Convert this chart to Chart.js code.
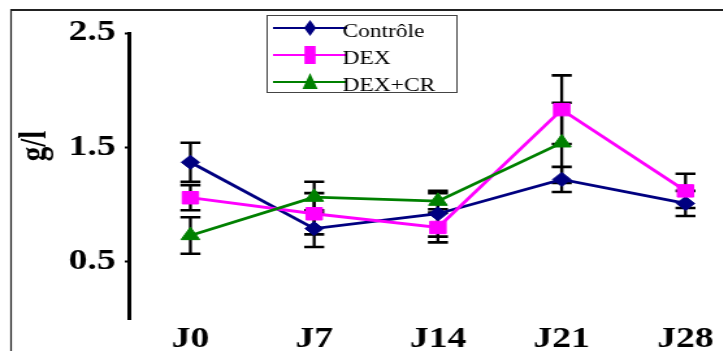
<!DOCTYPE html>
<html>
<head>
<meta charset="utf-8">
<script src="https://cdn.jsdelivr.net/npm/chart.js@4/dist/chart.umd.min.js"></script>
<style>
  html, body { margin: 0; padding: 0; background: #fff; overflow: hidden; }
  #wrap { width: 556px; height: 351px; transform: scaleX(1.3); transform-origin: 0 0; }
  #c { display: block; }
</style>
</head>
<body>
<div id="wrap"><canvas id="c" width="556" height="351"></canvas></div>
<script>
// ---- data ----
const categories = ['J0', 'J7', 'J14', 'J21', 'J28'];
const days = [0, 7, 14, 21, 28];
const seriesNames = ['Contrôle', 'DEX', 'DEX+CR'];
const controle = [1.37, 0.79, 0.92, 1.22, 1.01];
const controleErr = [0.17, 0.16, 0.20, 0.11, 0.11];
const dex = [1.06, 0.92, 0.80, 1.83, 1.12];
const dexErr = [0.11, 0.18, 0.13, 0.30, 0.15];
const dexCr = [0.73, 1.065, 1.03, 1.54, null];
const dexCrErr = [0.16, 0.135, 0.07, 0.35, null];
const yTicks = [0.5, 1.5, 2.5];
const yTitle = 'g/l';

const SERIF = '"Liberation Serif", "Times New Roman", serif';
const toPts = arr => arr.map((v, i) => ({ x: days[i], y: v }));

const framePlugin = {
  id: 'frame',
  beforeDraw(chart) {
    const ctx = chart.ctx;
    ctx.save();
    ctx.fillStyle = '#fff';
    ctx.fillRect(0, 0, chart.width, chart.height);
    ctx.strokeStyle = '#222';
    ctx.lineWidth = 2;
    ctx.beginPath(); ctx.moveTo(8, 10); ctx.lineTo(chart.width + 2, 10); ctx.stroke();
    ctx.lineWidth = 1.2;
    ctx.beginPath(); ctx.moveTo(8.5, 9); ctx.lineTo(8.5, chart.height + 2); ctx.stroke();
    // y title
    ctx.translate(28, 146);
    ctx.rotate(-Math.PI / 2);
    ctx.fillStyle = '#000';
    ctx.font = 'bold 29px ' + SERIF;
    ctx.textAlign = 'center';
    ctx.textBaseline = 'middle';
    ctx.fillText(yTitle, 0, 0);
    ctx.restore();
  }
};

const errorBarPlugin = {
  id: 'errorBars',
  beforeDatasetsDraw(chart) {
    const { ctx, scales: { x, y } } = chart;
    ctx.save();
    ctx.strokeStyle = '#000';
    chart.data.datasets.forEach(ds => {
      ds.data.forEach((p, j) => {
        const e = ds.errors[j];
        if (p.y == null || e == null) return;
        const px = x.getPixelForValue(p.x);
        const t = y.getPixelForValue(p.y + e);
        const b = y.getPixelForValue(p.y - e);
        ctx.lineWidth = 2.3;
        ctx.beginPath(); ctx.moveTo(px, t); ctx.lineTo(px, b); ctx.stroke();
        ctx.lineWidth = 2.6;
        ctx.beginPath();
        ctx.moveTo(px - 7.7, t); ctx.lineTo(px + 7.7, t);
        ctx.moveTo(px - 7.7, b); ctx.lineTo(px + 7.7, b);
        ctx.stroke();
      });
    });
    ctx.restore();
  }
};

const legendPlugin = {
  id: 'boxLegend',
  afterDraw(chart) {
    const ctx = chart.ctx;
    ctx.save();
    ctx.fillStyle = '#fff';
    ctx.fillRect(205.5, 15, 146, 77);
    ctx.strokeStyle = '#444';
    ctx.lineWidth = 1;
    ctx.strokeRect(205.5, 15.5, 146, 77);
    chart.data.datasets.forEach((ds, i) => {
      const yy = 28 + i * 27;
      ctx.strokeStyle = ds.borderColor;
      ctx.lineWidth = 2;
      ctx.beginPath(); ctx.moveTo(210, yy); ctx.lineTo(267, yy); ctx.stroke();
      ctx.fillStyle = ds.borderColor;
      const cx = 238.5;
      ctx.beginPath();
      if (ds.pointStyle === 'rectRot') {
        ctx.moveTo(cx, yy - 8); ctx.lineTo(cx + 4.6, yy); ctx.lineTo(cx, yy + 8); ctx.lineTo(cx - 4.6, yy);
      } else if (ds.pointStyle === 'rect') {
        ctx.rect(cx - 4.3, yy - 9, 8.6, 18);
      } else {
        ctx.moveTo(cx, yy - 9); ctx.lineTo(cx + 5.8, yy + 7); ctx.lineTo(cx - 5.8, yy + 7);
      }
      ctx.closePath();
      ctx.fill();
      ctx.fillStyle = '#000';
      ctx.font = '18px ' + SERIF;
      ctx.textAlign = 'left';
      ctx.textBaseline = 'alphabetic';
      ctx.fillText(ds.label, 263.5, yy + 9);
    });
    ctx.restore();
  }
};

const colors = ['#000080', '#FF00FF', '#008000'];
const styles = ['rectRot', 'rect', 'triangle'];
const radii = [7, 8.8, 8.3];
const values = [controle, dex, dexCr];
const errs = [controleErr, dexErr, dexCrErr];
const orders = [3, 2, 1];

new Chart(document.getElementById('c'), {
  type: 'line',
  data: {
    datasets: seriesNames.map((name, i) => ({
      label: name,
      data: toPts(values[i]),
      errors: errs[i],
      borderColor: colors[i],
      backgroundColor: colors[i],
      pointBackgroundColor: colors[i],
      pointBorderColor: colors[i],
      pointBorderWidth: 1,
      pointStyle: styles[i],
      pointRadius: radii[i],
      pointHoverRadius: radii[i],
      borderWidth: 2.8,
      tension: 0,
      spanGaps: false,
      order: orders[i]
    }))
  },
  options: {
    responsive: false,
    devicePixelRatio: 1,
    animation: false,
    layout: { padding: { top: 33, left: 0, right: 0, bottom: 0 } },
    plugins: { legend: { display: false }, tooltip: { enabled: false } },
    scales: {
      x: {
        type: 'linear',
        min: -3.49,
        max: 29.39,
        grid: { display: false },
        border: { display: false },
        afterBuildTicks: s => { s.ticks = days.map(v => ({ value: v })); },
        afterFit: s => { s.height = 32; s.paddingLeft = 0; s.paddingRight = 0; },
        ticks: {
          autoSkip: false,
          maxRotation: 0,
          padding: -2,
          color: '#000',
          font: { family: SERIF, size: 29, weight: 'bold', lineHeight: 1 },
          callback: (v, i) => categories[i]
        }
      },
      y: {
        min: 0,
        max: 2.5,
        afterBuildTicks: s => { s.ticks = yTicks.map(v => ({ value: v })); },
        afterFit: s => { s.width = 99; },
        border: { display: true, color: '#000', width: 3 },
        grid: { drawOnChartArea: false, drawTicks: true, tickLength: 3, tickWidth: 2, tickColor: '#000' },
        ticks: {
          padding: 7,
          color: '#000',
          font: { family: SERIF, size: 29, weight: 'bold', lineHeight: 1 },
          callback: v => v.toFixed(1)
        }
      }
    }
  },
  plugins: [framePlugin, errorBarPlugin, legendPlugin]
});
</script>
</body>
</html>
